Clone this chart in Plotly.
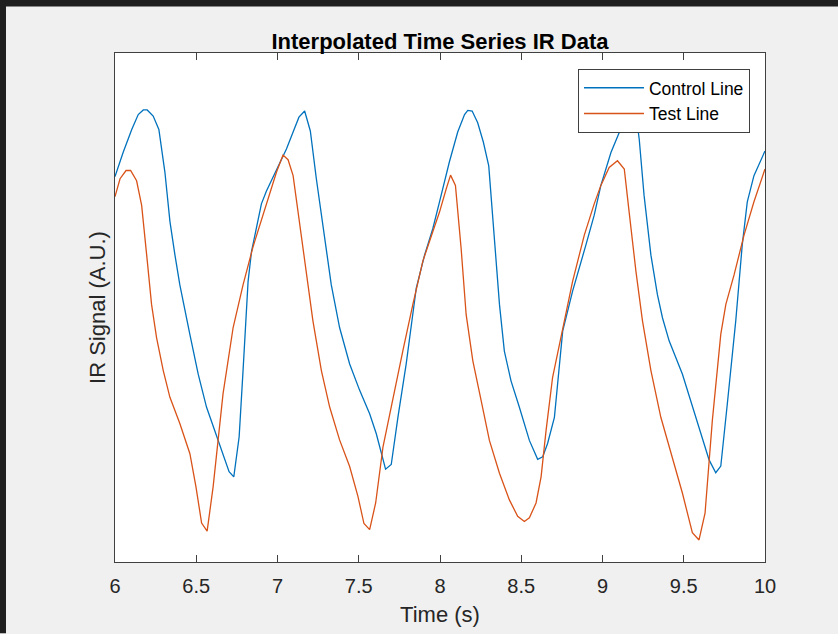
import plotly.graph_objects as go

# ---- data ----
control_t = [6.000, 6.051, 6.103, 6.143, 6.174, 6.198, 6.235, 6.270, 6.307, 6.338,
             6.369, 6.399, 6.461, 6.512, 6.563, 6.625, 6.676, 6.702, 6.731, 6.764,
             6.788, 6.819, 6.840, 6.871, 6.901, 6.932, 6.973, 6.994, 7.055, 7.096,
             7.132, 7.167, 7.202, 7.239, 7.280, 7.331, 7.382, 7.444, 7.505, 7.567,
             7.608, 7.645, 7.665, 7.700, 7.741, 7.792, 7.854, 7.905, 7.956, 7.997,
             8.058, 8.109, 8.151, 8.171, 8.198, 8.232, 8.267, 8.300, 8.335, 8.366,
             8.396, 8.437, 8.488, 8.550, 8.601, 8.632, 8.662, 8.704, 8.755, 8.816,
             8.898, 8.949, 8.990, 9.052, 9.103, 9.129, 9.164, 9.212, 9.226, 9.256,
             9.298, 9.338, 9.369, 9.410, 9.492, 9.543, 9.605, 9.656, 9.697, 9.728,
             9.768, 9.820, 9.860, 9.891, 9.932, 10.000]
control_v = [0.749, 0.797, 0.841, 0.870, 0.879, 0.879, 0.867, 0.841, 0.758, 0.662,
             0.596, 0.538, 0.441, 0.364, 0.300, 0.242, 0.197, 0.174, 0.164, 0.242,
             0.371, 0.545, 0.603, 0.654, 0.696, 0.721, 0.749, 0.764, 0.803, 0.836,
             0.865, 0.877, 0.838, 0.745, 0.648, 0.538, 0.455, 0.384, 0.333, 0.287,
             0.248, 0.203, 0.179, 0.188, 0.280, 0.384, 0.532, 0.596, 0.648, 0.700,
             0.778, 0.836, 0.870, 0.878, 0.877, 0.854, 0.816, 0.770, 0.629, 0.500,
             0.409, 0.351, 0.300, 0.235, 0.198, 0.203, 0.229, 0.280, 0.448, 0.526,
             0.616, 0.674, 0.732, 0.796, 0.835, 0.857, 0.878, 0.857, 0.822, 0.712,
             0.596, 0.519, 0.474, 0.429, 0.364, 0.313, 0.248, 0.197, 0.172, 0.185,
             0.306, 0.468, 0.616, 0.700, 0.751, 0.799]

test_t = [6.000, 6.031, 6.068, 6.096, 6.133, 6.164, 6.195, 6.225, 6.256, 6.297,
          6.338, 6.399, 6.461, 6.498, 6.533, 6.567, 6.604, 6.665, 6.727, 6.788,
          6.850, 6.932, 6.994, 7.034, 7.065, 7.096, 7.126, 7.167, 7.218, 7.270,
          7.321, 7.382, 7.444, 7.495, 7.532, 7.567, 7.604, 7.649, 7.710, 7.771,
          7.833, 7.894, 7.956, 7.997, 8.038, 8.065, 8.095, 8.130, 8.161, 8.202,
          8.253, 8.304, 8.366, 8.427, 8.478, 8.519, 8.550, 8.591, 8.622, 8.653,
          8.693, 8.755, 8.816, 8.888, 8.949, 8.990, 9.041, 9.092, 9.134, 9.164,
          9.206, 9.246, 9.298, 9.359, 9.421, 9.492, 9.553, 9.594, 9.631, 9.676,
          9.728, 9.759, 9.810, 9.871, 9.932, 10.000]
test_v = [0.710, 0.745, 0.761, 0.761, 0.741, 0.693, 0.596, 0.500, 0.435, 0.371,
          0.319, 0.268, 0.209, 0.145, 0.074, 0.058, 0.145, 0.326, 0.455, 0.538,
          0.613, 0.693, 0.758, 0.791, 0.782, 0.751, 0.681, 0.584, 0.468, 0.371,
          0.300, 0.236, 0.184, 0.126, 0.073, 0.061, 0.113, 0.222, 0.319, 0.409,
          0.500, 0.584, 0.642, 0.680, 0.725, 0.752, 0.732, 0.609, 0.480, 0.390,
          0.313, 0.235, 0.171, 0.119, 0.087, 0.077, 0.084, 0.113, 0.164, 0.255,
          0.358, 0.455, 0.545, 0.635, 0.696, 0.732, 0.767, 0.780, 0.764, 0.680,
          0.564, 0.468, 0.371, 0.280, 0.209, 0.132, 0.055, 0.041, 0.093, 0.274,
          0.442, 0.500, 0.558, 0.635, 0.700, 0.764]

x_ticks = [6, 6.5, 7, 7.5, 8, 8.5, 9, 9.5, 10]
x_tick_labels = ["6", "6.5", "7", "7.5", "8", "8.5", "9", "9.5", "10"]

BLUE = "#0072BD"
ORANGE = "#D95319"
AX = "#404040"
FONT = "Liberation Sans, Arial, sans-serif"

fig = go.Figure()
fig.add_trace(go.Scatter(x=control_t, y=control_v, mode="lines", name="Control Line",
                         line=dict(color=BLUE, width=1.3)))
fig.add_trace(go.Scatter(x=test_t, y=test_v, mode="lines", name="Test Line",
                         line=dict(color=ORANGE, width=1.3)))

# dark window border strips (top and left), in paper coordinates
fig.add_shape(type="rect", xref="paper", yref="paper",
              x0=-0.177, x1=1.113, y0=1.0916, y1=1.104,
              fillcolor="#1f1f1f", line=dict(width=0), layer="above")
fig.add_shape(type="rect", xref="paper", yref="paper",
              x0=-0.177, x1=-0.1677, y0=-0.14, y1=1.104,
              fillcolor="#1f1f1f", line=dict(width=0), layer="above")

fig.update_layout(
    width=838, height=634,
    margin=dict(l=115, r=73, t=53, b=68),
    paper_bgcolor="#f0f0f0",
    plot_bgcolor="white",
    font=dict(family=FONT, color="#262626"),
    title=dict(text="<b>Interpolated Time Series IR Data</b>",
               font=dict(size=22, color="black", family=FONT),
               x=0.5, xanchor="center", xref="paper",
               y=1, yanchor="bottom", yref="paper", pad=dict(b=4)),
    showlegend=True,
    legend=dict(x=0.9769, y=0.9688, xanchor="right", yanchor="top",
                bgcolor="white", bordercolor=AX, borderwidth=1,
                font=dict(size=17.5, color="black", family=FONT),
                itemwidth=60, tracegroupgap=0),
    xaxis=dict(range=[6, 10], tickvals=x_ticks, ticktext=x_tick_labels,
               ticks="inside", ticklen=7, tickcolor=AX, tickwidth=1,
               showline=True, linecolor=AX, linewidth=1, mirror="ticks",
               showgrid=False, zeroline=False,
               tickfont=dict(size=20, color="#262626"),
               ticklabelstandoff=6,
               title=dict(text="Time (s)", font=dict(size=22, color="#262626"),
                          standoff=10)),
    yaxis=dict(range=[-0.002, 0.990], showticklabels=False, ticks="",
               showline=True, linecolor=AX, linewidth=1, mirror=True,
               showgrid=False, zeroline=False,
               title=dict(text="IR Signal (A.U.)", font=dict(size=22, color="#262626"),
                          standoff=2)),
)

fig.write_html("out.html",
               config={"displayModeBar": False},
               post_script="document.body.style.margin='0px';document.body.style.overflow='hidden';")
